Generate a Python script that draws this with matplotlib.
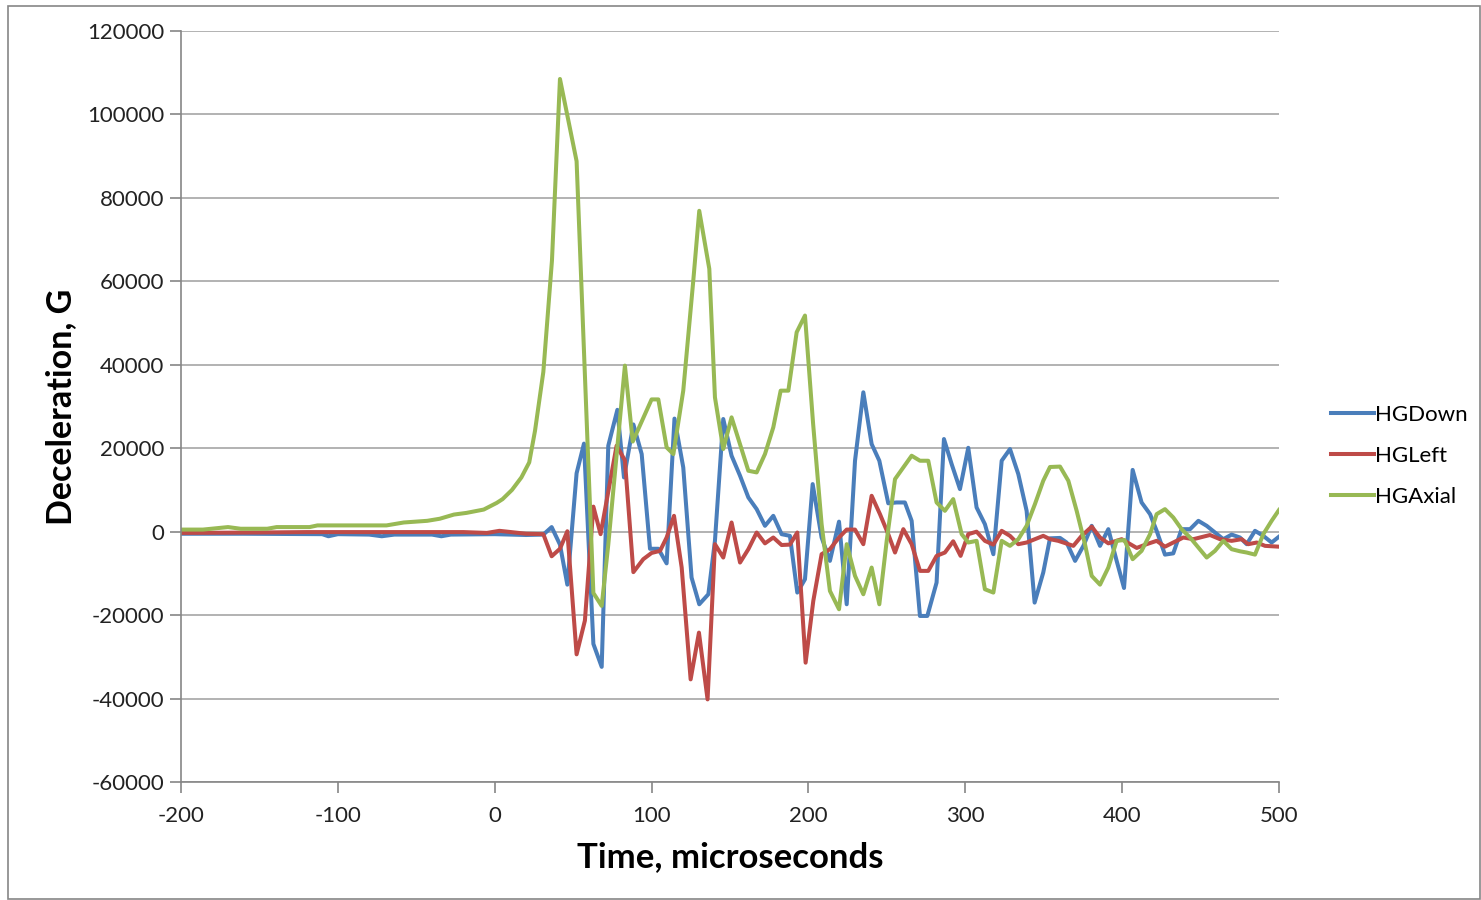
import matplotlib
matplotlib.use('Agg')
from matplotlib import pyplot as plt
from matplotlib.patches import Rectangle

plt.rcParams['font.family'] = ['Lato', 'DejaVu Sans']

# time (microseconds) and deceleration (G)
t_down = [-200, -160, -110, -106, -100, -80, -72, -64, -40, -34, -28, 0, 20, 31,
          36.3, 41.6, 46.3, 52.2, 56.9, 62.9, 68.2, 72.4, 78.2, 82.4, 88.4, 93.7, 99,
          104.3, 109.6, 114.6, 120.2, 125.5, 130.4, 136.2, 140.4, 145.7, 151, 156.4,
          161.7, 167, 172.3, 177.6, 182.9, 188.2, 192.9, 197.8, 202.7, 208.4, 213.7,
          219.5, 224.4, 229.7, 235, 240.3, 245.2, 250.9, 256.2, 261.5, 265.8, 271.1,
          275.8, 281.7, 286.4, 291.3, 296.6, 301.9, 307.2, 312.5, 317.9, 323.2, 328.5,
          333.8, 339.1, 344.2, 349.7, 354, 360.4, 364.6, 370, 375.3, 380.6, 385.9,
          391.2, 396.5, 401.2, 406.7, 412.4, 417.8, 422, 427.3, 432.6, 437.9, 443.3,
          448.6, 453.9, 459.2, 464.5, 469.8, 475.1, 479.4, 484.7, 490, 495.3, 500]
hg_down = [-500, -500, -600, -1100, -600, -700, -1100, -700, -700, -1100, -700, -600, -800, -700,
           1100, -3100, -12700, 14000, 21100, -26900, -32400, 20600, 29200, 13000, 25700, 18600, -4100,
           -4100, -7600, 27100, 15400, -11000, -17400, -15000, -2200, 27000, 18200, 13400,
           8200, 5400, 1400, 3800, -600, -1000, -14600, -11400, 11400, -1400, -7000,
           2400, -17400, 17000, 33400, 21000, 17000, 6800, 7000, 7000, 2600, -20200,
           -20200, -12200, 22200, 16200, 10200, 20100, 5800, 1800, -5400, 17000, 19800,
           13800, 5000, -17000, -9800, -1600, -1500, -2600, -7000, -3400, 1400, -3400,
           600, -7000, -13500, 14800, 7000, 4200, 200, -5500, -5200, 600, 600,
           2600, 1400, -200, -1800, -700, -1400, -3000, 200, -1000, -2600, -1200]

t_left = [-200, -150, -120, -60, -20, -5, 3, 8, 20, 31, 36.3, 41.6, 46.3, 52.2, 57.5,
          62.9, 67.5, 77.7, 83, 88.4, 94.7, 100, 105.4, 109.6, 114.3, 119.2, 124.9,
          130.2, 135.7, 140.4, 145.7, 151, 156.4, 161.7, 167, 172.3, 177.6, 182.9,
          188.2, 192.9, 198.2, 203.1, 208.4, 213.7, 219.5, 224.4, 229.7, 235, 240.3,
          245.6, 250.9, 255.2, 260.5, 265.8, 271.1, 276.4, 281.7, 287, 292.3, 297,
          301.9, 307.2, 312.5, 317.9, 323.2, 328.5, 333.8, 339.1, 344.4, 349.7, 354,
          359.3, 368.9, 374.2, 380.6, 385.9, 391.2, 399.7, 409.3, 415.6, 422, 427.3,
          432.6, 439, 445.4, 456, 462.4, 469.8, 476.2, 480.4, 485.8, 491.1, 500]
hg_left = [-300, -200, -100, -100, -100, -300, 200, 0, -500, -600, -5900, -4100, 100, -29400, -21300,
           6000, -600, 20600, 17100, -9700, -6600, -5100, -4600, -1400, 3800, -8600, -35400,
           -24200, -40200, -3000, -6200, 2200, -7400, -4200, -200, -2800, -1400, -3200,
           -3100, -200, -31400, -16600, -5400, -4200, -1400, 500, 500, -3000, 8600,
           4200, -600, -5000, 600, -3000, -9400, -9400, -5800, -5000, -2300, -5800,
           -600, 0, -2200, -3100, 200, -1000, -3000, -2600, -1800, -1000, -1800,
           -2200, -3400, -1000, 1200, -1400, -2800, -1800, -3900, -3000, -2200, -3600,
           -2600, -1400, -1800, -800, -1800, -2200, -1800, -3000, -2600, -3400, -3600]

t_axial = [-200, -186, -170, -162, -145, -139, -118, -113, -69, -58, -43, -35, -26, -18,
           -7, 1.3, 5, 11, 17, 22, 25.7, 31, 36.5, 41.6, 52.2, 62.9, 68.2, 72.4, 83, 88,
           100, 104.3, 109.6, 113.9, 120.2, 126.6, 130.4, 136.8, 140.4, 145.7, 151,
           161.7, 167, 172.3, 177.6, 182.3, 187.2, 192.5, 197.8, 203, 208.4, 213.7,
           219.5, 224.4, 229.7, 235, 240.3, 245.2, 249.9, 255.2, 260.5, 265.8, 271.1,
           276.4, 281.7, 287, 292.3, 297.7, 301.9, 307.2, 312.5, 317.9, 323.2, 328.5,
           333.8, 339.1, 344.4, 349.7, 354, 360.4, 365.7, 371, 376.3, 380.6, 385.9,
           391.2, 396.5, 401.5, 406.7, 412.4, 417.8, 422, 427.3, 432.6, 437.9, 443.3,
           448.6, 453.9, 459.2, 464.5, 469.8, 475.1, 479.4, 484.7, 490, 495.3, 500]
hg_axial = [500, 500, 1100, 700, 700, 1100, 1100, 1500, 1500, 2200, 2600, 3100, 4100, 4500,
            5300, 6900, 7800, 10000, 13000, 16600, 24200, 38300, 65000, 108500, 88800, -14700, -17800, -3100, 39800, 21600,
            31700, 31700, 20200, 18600, 33800, 60200, 76900, 63000, 32200, 19800, 27400,
            14600, 14200, 18600, 25000, 33800, 33800, 47800, 51800, 25800, 1800, -14200,
            -18600, -3000, -10600, -15000, -8600, -17400, -2200, 12600, 15400, 18200, 17000,
            17000, 7000, 5000, 7800, -600, -2600, -2200, -13800, -14600, -2200, -3400,
            -1800, 1400, 6600, 12200, 15500, 15600, 12200, 5000, -3000, -10600, -12700,
            -8600, -2200, -2000, -6600, -4600, -600, 4200, 5400, 3400, 600, -1400,
            -3800, -6200, -4600, -2200, -4200, -4700, -5000, -5500, -600, 2600, 5200]

x_ticks = [-200, -100, 0, 100, 200, 300, 400, 500]
y_ticks = [-60000, -40000, -20000, 0, 20000, 40000, 60000, 80000, 100000, 120000]

fig = plt.figure(figsize=(14.81, 9.0), dpi=100)
ax = fig.add_axes([181 / 1481, 118 / 900, 1098 / 1481, 751 / 900])

grey = '#868686'
ax.plot(t_down, hg_down, color='#4a7ebb', lw=2.9, label='HGDown', solid_joinstyle='round')
ax.plot(t_left, hg_left, color='#be4b48', lw=2.9, label='HGLeft', solid_joinstyle='round')
ax.plot(t_axial, hg_axial, color='#98b954', lw=2.9, label='HGAxial', solid_joinstyle='round')

ax.set_xlim(-200, 500)
ax.set_ylim(-60000, 120000)
ax.set_xticks(x_ticks)
ax.set_yticks(y_ticks)
ax.set_xticklabels([str(v) for v in x_ticks])
ax.set_yticklabels([str(v) for v in y_ticks])
ax.yaxis.grid(True, color='#a6a6a6', lw=1.2)
ax.set_axisbelow(True)
for s in ['top', 'right']:
    ax.spines[s].set_visible(False)
for s in ['left', 'bottom']:
    ax.spines[s].set_color(grey)
    ax.spines[s].set_linewidth(1.2)
ax.tick_params(axis='both', direction='out', length=8, width=1.2, color=grey,
               labelsize=16, labelcolor='#222222')
ax.tick_params(axis='x', pad=9)
ax.tick_params(axis='y', pad=4)

ax.set_xlabel('Time, microseconds', fontsize=25, fontweight='bold', labelpad=11)
ax.set_ylabel('Deceleration, G', fontsize=24.5, fontweight='bold', labelpad=7)

fig.legend(loc='center left', bbox_to_anchor=(1331 / 1481, 1 - 456 / 900), frameon=False,
           fontsize=16, handlelength=1.95, handletextpad=0.05, labelspacing=0.95,
           borderaxespad=0, borderpad=0)

fig.patches.append(Rectangle((8 / 1481, 1 / 900), 1 - 9 / 1481, 1 - 7 / 900,
                             transform=fig.transFigure, fill=False,
                             edgecolor=grey, lw=1.2))

fig.savefig('out.png', dpi=100)
